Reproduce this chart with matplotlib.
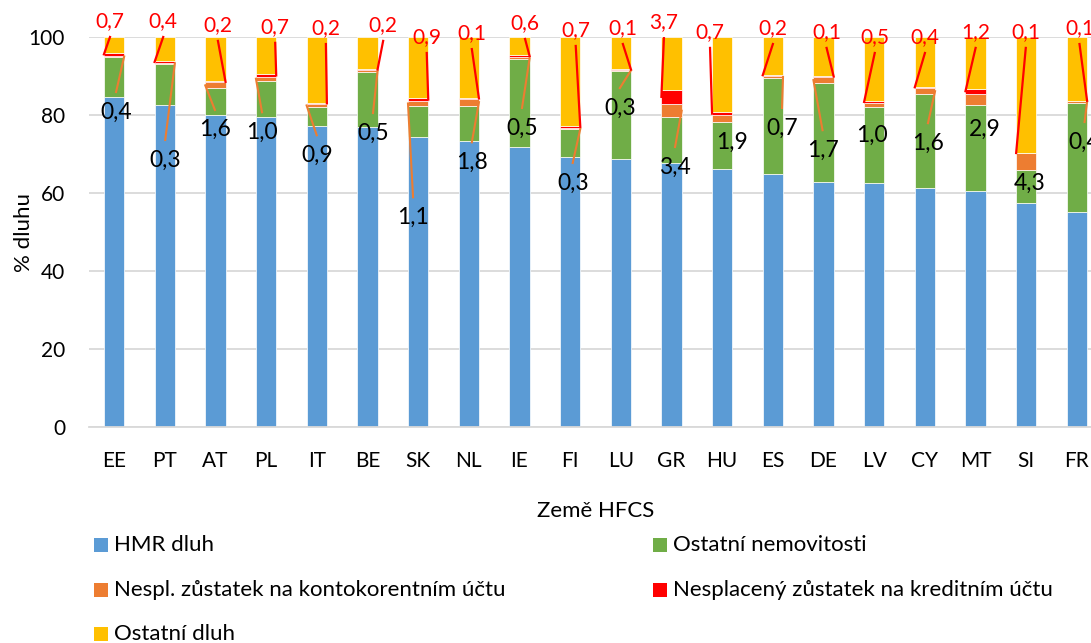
"""Struktura dluhu domácností podle zemí HFCS"""
import matplotlib
matplotlib.use("Agg")
import matplotlib.pyplot as plt
from matplotlib.patches import Rectangle
import numpy as np

plt.rcParams.update({
    "font.family": ["Lato", "DejaVu Sans"], "font.size": 15,
})

COUNTRIES = ["EE", "PT", "AT", "PL", "IT", "BE", "SK", "NL", "IE", "FI",
             "LU", "GR", "HU", "ES", "DE", "LV", "CY", "MT", "SI", "FR"]
HMR = [84.5, 82.5, 80.0, 79.4, 77.3, 76.8, 74.3, 73.4, 71.7, 69.3,
       68.6, 67.6, 66.1, 64.9, 62.7, 62.5, 61.4, 60.5, 57.5, 55.2]
OST_NEM = [10.3, 10.6, 6.8, 9.4, 4.7, 14.3, 8.1, 9.0, 22.6, 7.0,
           22.7, 11.8, 12.0, 24.5, 25.4, 19.6, 23.9, 22.1, 8.4, 28.0]
KONTO = [0.4, 0.3, 1.6, 1.0, 0.9, 0.5, 1.1, 1.8, 0.5, 0.3,
         0.3, 3.4, 1.9, 0.7, 1.7, 1.0, 1.6, 2.9, 4.3, 0.4]
KREDIT = [0.7, 0.4, 0.2, 0.7, 0.2, 0.2, 0.9, 0.1, 0.6, 0.7,
          0.1, 3.7, 0.7, 0.2, 0.1, 0.5, 0.4, 1.2, 0.1, 0.1]
OST_DLUH = [4.1, 6.2, 11.4, 9.5, 16.9, 8.2, 15.6, 15.7, 4.6, 22.7,
            8.3, 13.5, 19.3, 9.7, 10.1, 16.4, 12.7, 13.3, 29.7, 16.3]

LABELS = ["HMR dluh", "Ostatní nemovitosti", "Nespl. zůstatek na kontokorentním účtu",
          "Nesplacený zůstatek na kreditním účtu", "Ostatní dluh"]
COLORS = ["#5B9BD5", "#70AD47", "#ED7D31", "#FF0000", "#FFC000"]

# umístění popisků (ruční, jako v Excelu)
KONTO_LX = [0.04, 1.01, 1.99, 2.92, 4.00, 5.11, 5.90, 7.06, 8.05, 9.05,
            9.98, 11.07, 12.19, 13.18, 13.98, 14.95, 16.06, 17.18, 18.07, 19.15]
KONTO_LY = [80.8, 68.5, 76.2, 75.6, 69.7, 75.4, 53.8, 67.9, 76.7, 62.6,
            81.8, 66.7, 73.1, 76.7, 71.0, 74.9, 72.8, 76.2, 62.6, 73.1]
KONTO_SIDE = [1, 1, -1, -1, -1, 1, -1, 1, 1, 1, 1, 1, 0, 1, -1, 0, 1, 0, 0, 1]
KREDIT_LX = [-0.08, 0.97, 2.05, 3.18, 4.18, 5.31, 6.17, 7.06, 8.11, 9.11,
             10.04, 10.85, 11.76, 13.0, 14.06, 15.01, 16.0, 17.0, 17.99, 19.05]
KREDIT_LY = [104.1, 104.1, 103.1, 102.6, 102.3, 103.1, 100.0, 101.0, 103.6, 101.8,
             102.3, 103.8, 101.3, 102.3, 101.3, 100.0, 100.0, 101.3, 101.3, 102.3]
KREDIT_SIDE = [-1, -1, 1, 1, 1, 1, 1, 1, 1, 1, 1, -1, -1, -1, 1, -1, -1, -1, -1, 1]

W, H = 1091, 643
fig = plt.figure(figsize=(W / 100, H / 100), dpi=100)
ax = fig.add_axes([88.7 / W, 1 - 427 / H, 1013.6 / W, 390 / H])

x = np.arange(len(COUNTRIES))
series = [HMR, OST_NEM, KONTO, KREDIT, OST_DLUH]
bottom = np.zeros(len(x))
bottoms = []
for vals, col in zip(series, COLORS):
    bottoms.append(bottom.copy())
    ax.bar(x, vals, 0.4, bottom=bottom, color=col, edgecolor="white", linewidth=0.5, zorder=2)
    bottom += np.array(vals)

ax.set_xlim(-0.5, 19.5)
ax.set_ylim(0, 100)
ax.set_yticks(range(0, 101, 20))
ax.set_xticks(x)
ax.set_xticklabels(COUNTRIES)
ax.grid(axis="y", color="#D9D9D9", lw=1.3, zorder=0)
for s in ["top", "right", "left"]:
    ax.spines[s].set_visible(False)
ax.spines["bottom"].set_color("#D9D9D9")
ax.spines["bottom"].set_linewidth(1.3)
ax.tick_params(axis="both", length=0, labelsize=15)
ax.tick_params(axis="x", pad=17)
ax.tick_params(axis="y", pad=17)
ax.set_ylabel("% dluhu", fontsize=16, labelpad=-4)
ax.set_xlabel("Země HFCS", fontsize=16, labelpad=22)


def fmt(v):
    return f"{v:.1f}".replace(".", ",")


# popisky – kontokorent (černé)
for i in range(len(x)):
    ax.text(KONTO_LX[i], KONTO_LY[i], fmt(KONTO[i]), ha="center", va="center",
            fontsize=16.5, color="black", zorder=5)
    if KONTO_SIDE[i] != 0:
        ya = bottoms[2][i] + KONTO[i] / 2
        ax.plot([KONTO_LX[i], i + 0.2 * KONTO_SIDE[i]], [KONTO_LY[i] + 5.1, ya],
                color="#ED7D31", lw=1.5, zorder=4, clip_on=False)

# popisky – kreditní účet (červené)
for i in range(len(x)):
    ax.text(KREDIT_LX[i], KREDIT_LY[i], fmt(KREDIT[i]), ha="center", va="center",
            fontsize=15, color="#FF0000", zorder=5, clip_on=False)
    ya = bottoms[3][i] + KREDIT[i] / 2
    ax.plot([KREDIT_LX[i], i + 0.2 * KREDIT_SIDE[i]], [KREDIT_LY[i] - 4.1, ya],
            color="#FF0000", lw=1.6, zorder=4, clip_on=False)

# legenda (2 sloupce, ručně)
leg_pos = [(94, 545), (653, 545), (94, 590), (653, 590), (94, 634)]
for (px, py), lab, col in zip(leg_pos, LABELS, COLORS):
    fig.add_artist(Rectangle((px / W, 1 - (py + 7) / H), 14 / W, 14 / H,
                             transform=fig.transFigure, color=col, lw=0))
    fig.text((px + 20) / W, 1 - py / H, lab, ha="left", va="center", fontsize=16)

plt.savefig("out.png", dpi=100)
